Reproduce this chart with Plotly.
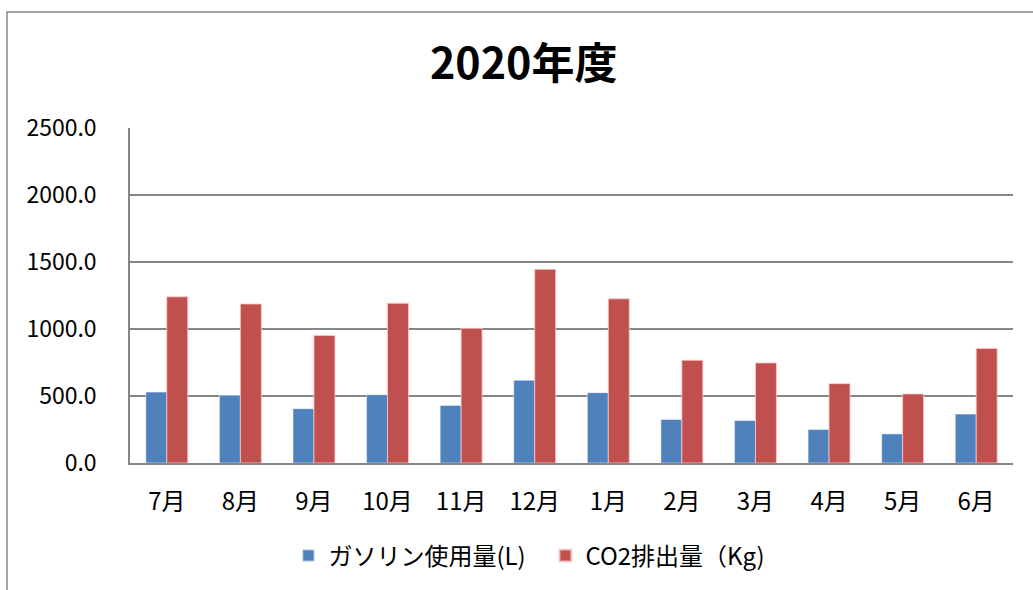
import plotly.graph_objects as go

months = ["7月", "8月", "9月", "10月", "11月", "12月", "1月", "2月", "3月", "4月", "5月", "6月"]
gasoline = [529, 505, 405, 510, 430, 617, 525, 325, 317, 250, 217, 365]
co2 = [1240, 1187, 952, 1192, 1005, 1445, 1225, 767, 747, 592, 515, 855]
series_names = ["ガソリン使用量(L)", "CO2排出量（Kg)"]
y_ticks = [0, 500, 1000, 1500, 2000, 2500]
title_text = "2020年度"

FONT = "Noto Sans CJK JP, Noto Sans, sans-serif"
GRID = "#868686"

fig = go.Figure()
fig.add_trace(go.Bar(x=months, y=gasoline, name=series_names[0],
                     marker=dict(color="#4F81BD", line=dict(color="rgba(255,255,255,0.5)", width=1))))
fig.add_trace(go.Bar(x=months, y=co2, name=series_names[1],
                     marker=dict(color="#C0504D", line=dict(color="rgba(255,200,200,0.8)", width=1))))

fig.update_layout(
    width=1033, height=590,
    margin=dict(l=130, r=20, t=128, b=127),
    paper_bgcolor="white", plot_bgcolor="white",
    barmode="group", bargap=0.43, bargroupgap=0,
    font=dict(family=FONT, color="#000000", size=20),
    title=dict(text="<b>" + title_text + "</b>", x=0.507, xref="container", xanchor="center",
               y=1 - 64 / 590, yref="container", yanchor="middle",
               font=dict(size=43, family=FONT, color="#000000")),
    showlegend=True,
    hovermode=False,
    legend=dict(orientation="h", xref="container", yref="container",
                x=0.528, xanchor="center", y=1 - 556 / 590, yanchor="middle",
                font=dict(size=24, family=FONT), itemsizing="constant",
                entrywidth=212, entrywidthmode="pixels", traceorder="normal"),
)

fig.update_yaxes(range=[0, 2500], tickvals=y_ticks, tickformat=".1f",
                 showgrid=True, gridcolor=GRID, gridwidth=1.5,
                 showline=True, linecolor=GRID, linewidth=1.5,
                 zeroline=False, ticks="", ticklabelstandoff=27,
                 tickfont=dict(size=23, family=FONT))
fig.update_xaxes(showline=True, linecolor=GRID, linewidth=1.5, showgrid=False,
                 ticks="", ticklabelstandoff=16, tickfont=dict(size=24, family=FONT))

# outer chart border (extends beyond the visible page on right and bottom)
fig.add_shape(type="rect", xref="paper", yref="paper",
              x0=(7 - 130) / 883, x1=(1045 - 130) / 883,
              y0=(463 - 610) / 335, y1=(463 - 12) / 335,
              line=dict(color=GRID, width=1.5), fillcolor="rgba(0,0,0,0)", layer="below")

fig.write_html("out.html", config={"displayModeBar": False},
               post_script="document.body.style.margin='0';document.body.style.overflow='hidden';")
